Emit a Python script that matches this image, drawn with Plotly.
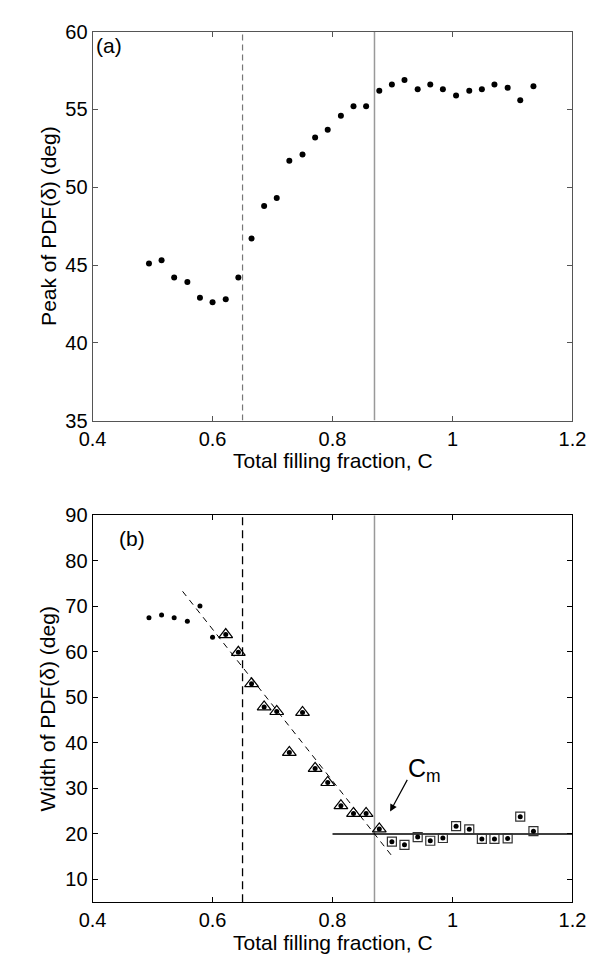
import plotly.graph_objects as go

# ---- data ----
C = [0.494, 0.515, 0.536, 0.558, 0.579, 0.600, 0.622, 0.643, 0.665, 0.686,
     0.707, 0.728, 0.750, 0.771, 0.792, 0.814, 0.835, 0.856, 0.878, 0.899,
     0.920, 0.942, 0.963, 0.984, 1.006, 1.028, 1.049, 1.070, 1.092, 1.113, 1.135]
peak = [45.1, 45.3, 44.2, 43.9, 42.9, 42.6, 42.8, 44.2, 46.7, 48.8,
        49.3, 51.7, 52.1, 53.2, 53.7, 54.6, 55.2, 55.2, 56.2, 56.6,
        56.9, 56.3, 56.6, 56.3, 55.9, 56.2, 56.3, 56.6, 56.4, 55.6, 56.5]
width = [67.5, 68.1, 67.5, 66.7, 70.1, 63.2, 63.8, 59.9, 53.0, 47.9,
         46.9, 37.9, 46.7, 34.4, 31.3, 26.2, 24.5, 24.5, 21.1, 18.3,
         17.6, 19.3, 18.5, 19.1, 21.7, 21.0, 18.9, 18.9, 19.0, 23.8, 20.6]
n_plain = 6          # plain dots
n_tri_end = 19       # triangles for points 7..19, squares afterwards

C_dash = 0.65
C_m = 0.87
fit_x = [0.55, 0.90]
fit_y = [73.3, 15.0]
flat_x = [0.80, 1.20]
flat_y = [20.0, 20.0]

x_ticks = [0.4, 0.6, 0.8, 1.0, 1.2]
x_ticklabels = ["0.4", "0.6", "0.8", "1", "1.2"]
ya_ticks = [35, 40, 45, 50, 55, 60]
yb_ticks = [10, 20, 30, 40, 50, 60, 70, 80, 90]

FONT = "Liberation Sans, Arial, Helvetica, sans-serif"
FS = 21
TFS = 20
W, H = 608, 956

fig = go.Figure()

# ---- panel (a) ----
fig.add_trace(go.Scatter(x=[C_dash, C_dash], y=[35, 60], mode="lines",
                         line=dict(color="#777", width=1.2, dash="6px,4px"),
                         xaxis="x", yaxis="y", showlegend=False))
fig.add_trace(go.Scatter(x=[C_m, C_m], y=[35, 60], mode="lines",
                         line=dict(color="#999", width=1.5),
                         xaxis="x", yaxis="y", showlegend=False))
fig.add_trace(go.Scatter(x=C, y=peak, mode="markers",
                         marker=dict(color="black", size=6),
                         xaxis="x", yaxis="y", showlegend=False))

# ---- panel (b) ----
fig.add_trace(go.Scatter(x=[C_dash, C_dash], y=[5, 90], mode="lines",
                         line=dict(color="black", width=1.3, dash="8px,5px"),
                         xaxis="x2", yaxis="y2", showlegend=False))
fig.add_trace(go.Scatter(x=[C_m, C_m], y=[5, 90], mode="lines",
                         line=dict(color="#999", width=1.5),
                         xaxis="x2", yaxis="y2", showlegend=False))
fig.add_trace(go.Scatter(x=fit_x, y=fit_y, mode="lines",
                         line=dict(color="black", width=1, dash="6px,5px"),
                         xaxis="x2", yaxis="y2", showlegend=False))
fig.add_trace(go.Scatter(x=flat_x, y=flat_y, mode="lines",
                         line=dict(color="black", width=1.5),
                         xaxis="x2", yaxis="y2", showlegend=False))
fig.add_trace(go.Scatter(x=C[n_plain:n_tri_end], y=width[n_plain:n_tri_end], mode="markers",
                         marker=dict(symbol="triangle-up-open", size=12, color="black",
                                     line=dict(width=1.2, color="black")),
                         xaxis="x2", yaxis="y2", showlegend=False))
fig.add_trace(go.Scatter(x=C[n_tri_end:], y=width[n_tri_end:], mode="markers",
                         marker=dict(symbol="square-open", size=9, color="#333",
                                     line=dict(width=1.2, color="#333")),
                         xaxis="x2", yaxis="y2", showlegend=False))
fig.add_trace(go.Scatter(x=C[:n_plain], y=width[:n_plain], mode="markers",
                         marker=dict(color="black", size=5),
                         xaxis="x2", yaxis="y2", showlegend=False))
fig.add_trace(go.Scatter(x=C[n_plain:], y=width[n_plain:], mode="markers",
                         marker=dict(color="black", size=5),
                         xaxis="x2", yaxis="y2", showlegend=False))

tickfont = dict(family=FONT, size=TFS, color="black")
common_x = dict(range=[0.4, 1.2], tickvals=x_ticks, ticktext=x_ticklabels,
                ticks="inside", ticklen=5, showline=True, mirror="ticks",
                showgrid=False, zeroline=False, tickfont=tickfont, fixedrange=True)
common_y = dict(ticks="inside", ticklen=5, showline=True, mirror="ticks",
                showgrid=False, zeroline=False, tickfont=tickfont)

top_dom = [1 - 411 / H, 1 - 13 / H]
bot_dom = [1 - 904 / H, 1 - 508 / H]
x_dom = [74 / W, 577 / W]

fig.update_layout(
    width=W, height=H,
    margin=dict(l=0, r=0, t=0, b=0),
    paper_bgcolor="white", plot_bgcolor="white",
    font=dict(family=FONT, size=FS, color="black"),
    xaxis=dict(domain=x_dom, anchor="y", linecolor="#555", tickcolor="#555", **common_x),
    yaxis=dict(domain=top_dom, anchor="x", range=[35, 60], tickvals=ya_ticks,
               linecolor="#555", tickcolor="#555", **common_y),
    xaxis2=dict(domain=x_dom, anchor="y2", linecolor="black", tickcolor="black", **common_x),
    yaxis2=dict(domain=bot_dom, anchor="x2", range=[5, 90], tickvals=yb_ticks,
                linecolor="black", tickcolor="black", **common_y),
)

mid_x = (x_dom[0] + x_dom[1]) / 2
ann = [
    dict(text="Total filling fraction, C", xref="paper", yref="paper",
         x=mid_x, y=1 - 452 / H, showarrow=False, xanchor="center", yanchor="middle",
         font=dict(size=FS)),
    dict(text="Total filling fraction, C", xref="paper", yref="paper",
         x=mid_x, y=1 - 945 / H, showarrow=False, xanchor="center", yanchor="middle",
         font=dict(size=FS)),
    dict(text="Peak of PDF(δ) (deg)", xref="paper", yref="paper", textangle=-90,
         x=27 / W, y=(top_dom[0] + top_dom[1]) / 2, showarrow=False,
         xanchor="center", yanchor="middle", font=dict(size=FS)),
    dict(text="Width of PDF(δ) (deg)", xref="paper", yref="paper", textangle=-90,
         x=27 / W, y=(bot_dom[0] + bot_dom[1]) / 2, showarrow=False,
         xanchor="center", yanchor="middle", font=dict(size=FS)),
    dict(text="(a)", xref="x", yref="y", x=0.403, y=59.1, showarrow=False,
         xanchor="left", yanchor="middle", font=dict(size=FS)),
    dict(text="(b)", xref="x2", yref="y2", x=0.441, y=85.0, showarrow=False,
         xanchor="left", yanchor="middle", font=dict(size=FS)),
    dict(text="C<sub>m</sub>", xref="x2", yref="y2", x=0.922, y=34.0, showarrow=False,
         xanchor="left", yanchor="middle", font=dict(size=25)),
    dict(text="", xref="x2", yref="y2", x=0.896, y=24.9,
         axref="x2", ayref="y2", ax=0.926, ay=32.2,
         showarrow=True, arrowhead=2, arrowsize=1.2, arrowwidth=1.2, arrowcolor="black"),
]
fig.update_layout(annotations=ann)

fig.write_html("out.html")
